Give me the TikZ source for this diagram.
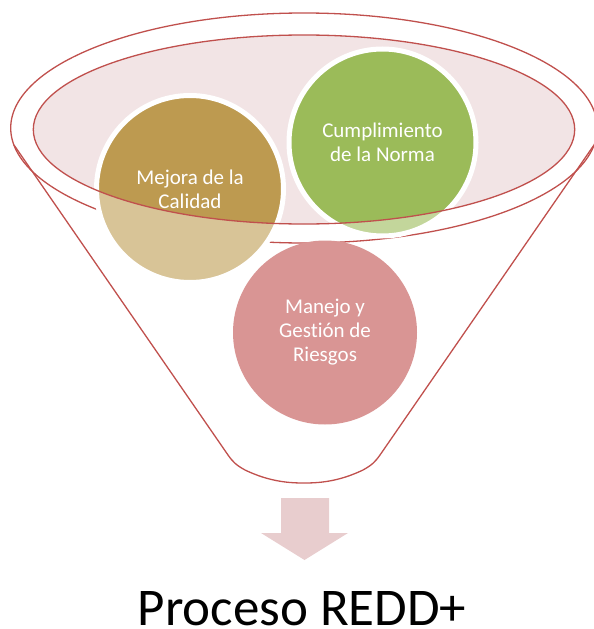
\documentclass[tikz,border=0pt]{standalone}
\usepackage{fontspec}
\setmainfont{Carlito}[RawFeature={-liga;-calt}]
\usepackage{xcolor}
\definecolor{funnelred}{HTML}{C0504D}
\definecolor{rimfill}{HTML}{F2E4E5}
\definecolor{tandark}{HTML}{BD9A50}
\definecolor{tanlight}{HTML}{D8C497}
\definecolor{greendark}{HTML}{9BBB59}
\definecolor{greenlight}{HTML}{C3D69B}
\definecolor{pinkfill}{HTML}{D99594}
\definecolor{arrowfill}{HTML}{E8CDCE}
\tikzset{
    funnel-line/.style = {draw=funnelred, line width=1.3pt},
    bubble/.style = {circle, inner sep=0pt, minimum size=187pt, draw=white, line width=5pt, text=white, align=center, font=\fontsize{21}{24}\selectfont},
    bubble-inside/.style = {path picture={\fill[#1] (rim) ellipse [x radius=270.7, y radius=94.5];}},
}

\begin{document}
\begin{tikzpicture}[x=1pt, y=-1pt]
\useasboundingbox (0,0) rectangle (594,629);
\coordinate (rim) at (304,129.5);
% funnel body
\draw[funnel-line] (304,128) ellipse [x radius=293.3, y radius=115];
\draw[funnel-line] (14,145) -- (228,455) .. controls (233,462) and (236,465) .. (245,470)
    .. controls (270,482) and (290,483) .. (304,483)
    .. controls (318,483) and (338,482) .. (363,470)
    .. controls (372,465) and (375,462) .. (380,455) -- (594,145);
\fill[rimfill] (rim) ellipse [x radius=270.7, y radius=94.5];
% the three items
\node[bubble, fill=tanlight, bubble-inside=tandark] (calidad) at (190,189) {Mejora de la\\Calidad};
\node[bubble, fill=greenlight, bubble-inside=greendark] (norma) at (382.5,142.5) {Cumplimiento\\de la Norma};
\node[bubble, draw=none, minimum size=184pt, fill=pinkfill] (riesgos) at (325,332.5) {Manejo y\\Gestión de\\Riesgos};
\draw[funnel-line] (rim) ellipse [x radius=270.7, y radius=94.5];
% result
\fill[arrowfill] (281,498) -- (329,498) -- (329,533) -- (348,533) -- (304.5,560) -- (261,533) -- (281,533) -- cycle;
\node[anchor=base, inner sep=0pt, font=\fontsize{53}{60}\selectfont] (redd) at (302,625) {Proceso REDD+};
\end{tikzpicture}
\end{document}
